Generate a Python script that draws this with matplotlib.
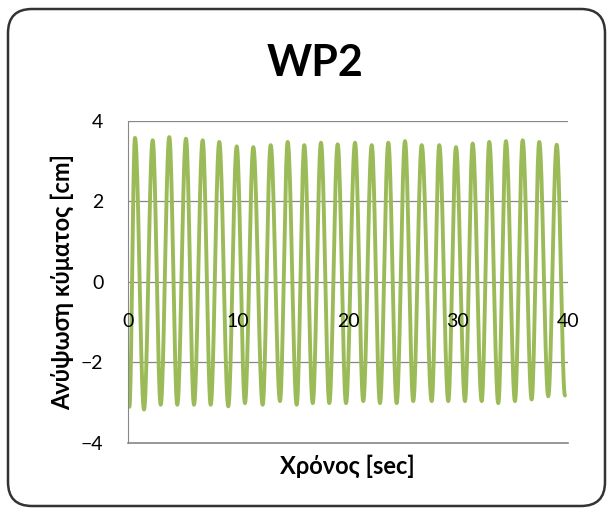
import matplotlib.pyplot as plt
import matplotlib.patches as patches
import numpy as np

plt.rcParams['font.family'] = ['Lato', 'Noto Sans', 'DejaVu Sans']

# wave extrema (time in sec, elevation in cm)
start_t, start_v = 0.1, -3.1
end_t, end_v = 39.75, -2.82

peak_t = [0.61, 2.22, 3.73, 5.25, 6.77, 8.28, 9.87, 11.38, 12.96, 14.51,
          16.02, 17.54, 19.06, 20.64, 22.16, 23.67, 25.19, 26.71, 28.31,
          29.83, 31.35, 32.86, 34.38, 35.90, 37.41, 39.00]
peak_v = [3.58, 3.52, 3.60, 3.56, 3.52, 3.48, 3.37, 3.35, 3.40, 3.48,
          3.40, 3.46, 3.42, 3.46, 3.40, 3.46, 3.50, 3.40, 3.40,
          3.35, 3.44, 3.48, 3.50, 3.52, 3.48, 3.41]

trough_t = [1.43, 2.95, 4.46, 5.98, 7.50, 9.10, 10.62, 12.23, 13.81, 15.33,
            16.79, 18.30, 19.82, 21.39, 22.91, 24.43, 25.94, 27.62, 29.13,
            30.65, 32.17, 33.68, 35.20, 36.72, 38.23]
trough_v = [-3.17, -3.05, -3.05, -3.05, -3.05, -3.09, -3.01, -3.05, -2.96, -3.05,
            -3.01, -3.01, -3.01, -2.96, -3.01, -3.01, -2.96, -2.96, -2.96,
            -2.96, -2.96, -3.01, -2.96, -2.92, -2.84]

x_ticks = [0, 10, 20, 30, 40]
y_ticks = [-4, -2, 0, 2, 4]

# join the extrema with half-cosine segments
ext = sorted([(start_t, start_v), (end_t, end_v)]
             + list(zip(peak_t, peak_v)) + list(zip(trough_t, trough_v)))
tt, vv = [], []
for (t0, v0), (t1, v1) in zip(ext[:-1], ext[1:]):
    s = np.linspace(0, 1, 20, endpoint=False)
    tt.extend(t0 + (t1 - t0) * s)
    vv.extend(v0 + (v1 - v0) * (1 - np.cos(np.pi * s)) / 2)
tt.append(ext[-1][0])
vv.append(ext[-1][1])

fig = plt.figure(figsize=(6.13, 5.12), dpi=100)

border = patches.FancyBboxPatch((8, 6), 597, 497,
                                boxstyle="round,pad=0,rounding_size=24",
                                transform=None, fill=False,
                                edgecolor='#333333', linewidth=1.8)
fig.patches.append(border)

ax = fig.add_axes([0.2093, 0.1348, 0.7168, 0.6289])
ax.plot(tt, vv, color='#9BBB59', linewidth=2.8, solid_capstyle='round', zorder=2)

ax.set_xlim(0, 40)
ax.set_ylim(-4, 4)
ax.set_xticks(x_ticks)
ax.set_yticks(y_ticks)
ax.grid(axis='y', color='#878787', linewidth=0.9)
for s in ['top', 'right']:
    ax.spines[s].set_visible(False)
ax.spines['bottom'].set_position(('data', 0))
ax.spines['bottom'].set_visible(False)
ax.spines['left'].set_color('#878787')
ax.axhline(-4, color='#878787', linewidth=1.2, clip_on=False)
ax.tick_params(axis='x', length=0, pad=22, labelsize=14)
ax.tick_params(axis='y', length=0, pad=18, labelsize=14)
ax.xaxis.set_zorder(5)

ax.set_ylabel('Ανύψωση κύματος [cm]', fontsize=17, fontweight='bold', labelpad=5)
fig.text(0.566, 0.089, 'Χρόνος [sec]', ha='center', va='center', fontsize=17,
         fontweight='bold')
fig.text(0.514, 0.877, 'WP2', ha='center', va='center', fontsize=31, fontweight='bold')

plt.savefig('out.png', dpi=100)
